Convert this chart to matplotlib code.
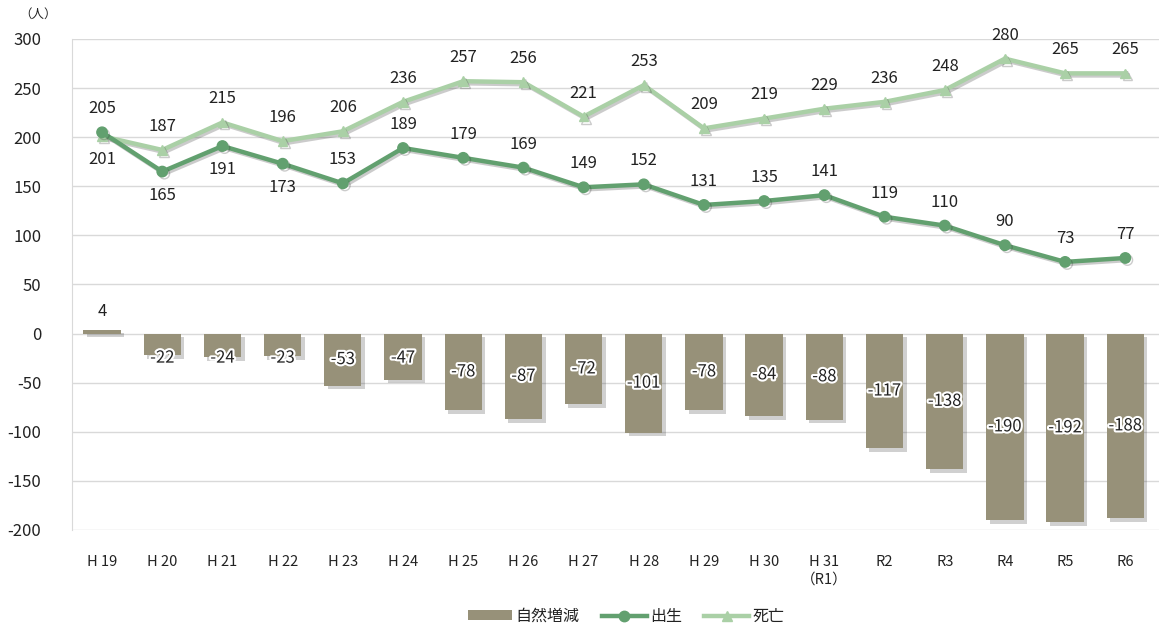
"""
Natural population change (births, deaths) by fiscal year, H19 - R6.

Output:
    out.png
"""

import matplotlib

matplotlib.use("Agg")
import matplotlib.pyplot as plt
import matplotlib.patheffects as pe
import numpy as np
from matplotlib.lines import Line2D
from matplotlib.patches import Patch

plt.rcParams["font.family"] = ["Noto Sans CJK JP", "DejaVu Sans"]

YEARS = [
    "H 19", "H 20", "H 21", "H 22", "H 23", "H 24", "H 25", "H 26", "H 27",
    "H 28", "H 29", "H 30", "H 31\n（R1）", "R2", "R3", "R4", "R5", "R6",
]
BIRTHS = [205, 165, 191, 173, 153, 189, 179, 169, 149, 152, 131, 135, 141, 119, 110, 90, 73, 77]
DEATHS = [201, 187, 215, 196, 206, 236, 257, 256, 221, 253, 209, 219, 229, 236, 248, 280, 265, 265]
NATURAL = [4, -22, -24, -23, -53, -47, -78, -87, -72, -101, -78, -84, -88, -117, -138, -190, -192, -188]

Y_TICKS = [-200, -150, -100, -50, 0, 50, 100, 150, 200, 250, 300]

# points whose labels sit under the marker instead of above it
BIRTHS_BELOW = {1, 2, 3}
DEATHS_BELOW = {0}

BAR_COLOR = "#979179"
BIRTH_COLOR = "#62a06f"
DEATH_COLOR = "#aad0a6"
GRID_COLOR = "#d9d9d9"
TEXT_COLOR = "#222222"

shadow = [pe.SimpleLineShadow(offset=(1.5, -1.5), shadow_color="#333333", alpha=0.25), pe.Normal()]
bar_shadow = [pe.SimplePatchShadow(offset=(2.5, -2.5), shadow_rgbFace="#444444", alpha=0.25), pe.Normal()]
glow = [pe.withStroke(linewidth=3, foreground="white")]

fig = plt.figure(figsize=(11.59, 6.29), dpi=100)
ax = fig.add_axes([0.0621, 0.1574, 0.9379, 0.7806])

x = np.arange(len(YEARS))

bars = ax.bar(x, NATURAL, width=0.62, color=BAR_COLOR, zorder=2)
for b in bars:
    b.set_path_effects(bar_shadow)

ax.plot(x, DEATHS, color=DEATH_COLOR, lw=3.2, marker="^", ms=7,
        zorder=3, path_effects=shadow)
ax.plot(x, BIRTHS, color=BIRTH_COLOR, lw=3.2, marker="o", ms=7.5,
        zorder=4, path_effects=shadow)

label_font = dict(fontsize=12, color=TEXT_COLOR, ha="center", va="center", zorder=6)

for i, v in enumerate(NATURAL):
    if v >= 0:
        ax.text(x[i], v + 19, str(v), **label_font)
    else:
        ax.text(x[i], min(v / 2, -25), str(v), path_effects=glow, **label_font)

for i, v in enumerate(BIRTHS):
    off = -24 if i in BIRTHS_BELOW else 24
    ax.text(x[i], v + off, str(v), **label_font)

for i, v in enumerate(DEATHS):
    off = -24 if i in DEATHS_BELOW else 24
    ax.text(x[i], v + off, str(v), **label_font)

ax.set_xlim(-0.5, len(YEARS) - 0.44)
ax.set_ylim(-200, 300)
ax.set_yticks(Y_TICKS)
ax.set_yticklabels([str(t) for t in Y_TICKS], fontsize=12, color=TEXT_COLOR)
ax.set_xticks(x)
ax.set_xticklabels(YEARS, fontsize=10.5, color=TEXT_COLOR, va="top", linespacing=1.3)
ax.tick_params(axis="y", length=0, pad=22)
ax.tick_params(axis="x", length=0, pad=18)

ax.grid(axis="y", color=GRID_COLOR, lw=1, zorder=0)
ax.set_axisbelow(True)
for name, spine in ax.spines.items():
    spine.set_visible(name == "left")
ax.spines["left"].set_color(GRID_COLOR)

fig.text(0.017, 0.977, "（人）", fontsize=9, color=TEXT_COLOR, ha="left", va="center")

handles = [
    Patch(facecolor=BAR_COLOR, label="自然増減"),
    Line2D([], [], color=BIRTH_COLOR, lw=3.2, marker="o", ms=7.5, label="出生"),
    Line2D([], [], color=DEATH_COLOR, lw=3.2, marker="^", ms=7, label="死亡"),
]
fig.legend(handles=handles, loc="center", bbox_to_anchor=(0.54, 0.02), ncol=3,
           frameon=False, fontsize=11.5, handlelength=2.8, handleheight=0.6,
           columnspacing=1.4, handletextpad=0.2, labelcolor=TEXT_COLOR)

fig.savefig("out.png", dpi=100)
